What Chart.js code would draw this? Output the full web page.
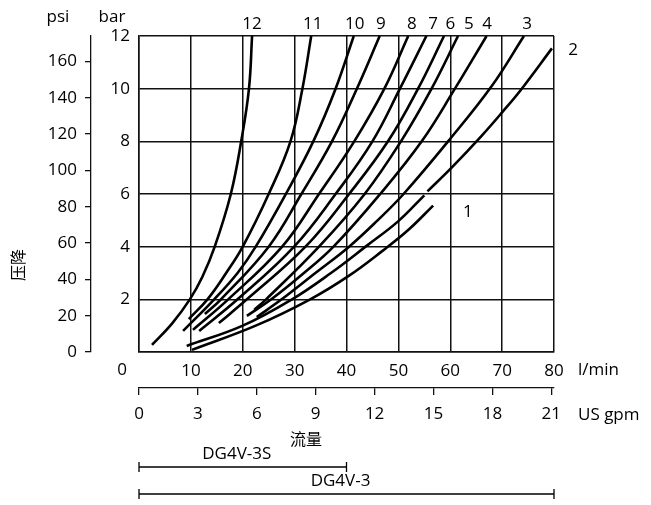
<!DOCTYPE html>
<html>
<head>
<meta charset="utf-8">
<script src="https://cdn.jsdelivr.net/npm/chart.js@4/dist/chart.umd.min.js"></script>
<style>
  html, body { margin: 0; padding: 0; background: #fff; }
  #chart { display: block; }
</style>
</head>
<body>
<canvas id="chart" width="651" height="505"></canvas>
<script>
// pressure drop curves, [flow l/min, pressure bar]
const curve1 = [[10.2, 0.08], [22.5, 1.0], [33, 2.0], [40.5, 2.9], [47, 3.85], [52, 4.65], [56.7, 5.56]];
const curve2Low = [[9.2, 0.23], [20, 1.0], [29.5, 2.0], [37, 3.0], [44, 4.05], [50, 4.97], [55, 5.95]];
const curve2High = [[55.6, 6.1], [60.5, 7.05], [66, 8.2], [70, 9.1], [73.6, 9.95], [79.6, 11.53]];
const curve3 = [[22.7, 1.33], [27.5, 2], [34, 3], [40.5, 4], [46, 5], [51, 6], [59.8, 8.05], [68, 10.1], [74.2, 12]];
const curve4 = [[20.8, 1.37], [25.5, 2], [31.5, 2.95], [37.5, 4], [46.5, 6], [54.5, 8], [60.9, 10], [67, 12]];
const curve5 = [[22.2, 1.6], [24.5, 2], [34.7, 4], [43.5, 6], [50.5, 8], [56.4, 10], [61.5, 12]];
const curve6 = [[15.4, 1.1], [20.8, 2], [32.1, 4], [40.5, 6], [48, 8], [53.8, 10], [58.8, 12]];
const curve7 = [[11.6, 0.8], [19, 2], [29.9, 4], [37.9, 6], [45, 8], [50.3, 10], [55.4, 12]];
const curve8 = [[10.4, 0.84], [17.2, 2], [27.6, 4], [34.7, 6], [41.5, 8], [47.3, 10], [51.9, 12]];
const curve9 = [[12.7, 1.44], [15.8, 2], [25, 4], [31.3, 6], [37.2, 8], [42, 10], [46.4, 12]];
const curve10 = [[8.5, 0.8], [14.5, 2], [19, 3], [22.5, 4], [28.3, 6], [33.6, 8], [37.9, 10], [41.4, 12]];
const curve11 = [[9.6, 1.25], [13.2, 2], [16.8, 3], [20, 4], [25, 6], [29.2, 8], [31.5, 10], [33.2, 12]];
const curve12 = [[2.5, 0.27], [6.4, 1.09], [9.8, 2], [12.2, 2.85], [14.6, 4], [17.7, 6], [19.7, 8], [21.2, 10], [21.8, 12]];

const curveNames = ['1', '2', '3', '4', '5', '6', '7', '8', '9', '10', '11', '12'];
// where each curve number sits, in l/min and bar
const nameFlow = [63.4, 83.7, 74.8, 67.1, 63.6, 60.0, 56.7, 52.6, 46.6, 41.6, 33.5, 21.8];
const nameBar = [5.32, 11.47, 12.45, 12.45, 12.45, 12.45, 12.45, 12.45, 12.45, 12.45, 12.45, 12.45];

// axes
const flowMax = 80;          // l/min
const barMax = 12;
const psiPerBar = 14.5;
const psiTicks = [0, 20, 40, 60, 80, 100, 120, 140, 160];
const lpmPerGpm = 3.785;
const gpmTicks = [0, 3, 6, 9, 12, 15, 18, 21];

// valve ranges under the axis
const valveNames = ['DG4V-3S', 'DG4V-3'];
const valveMaxFlow = [40, 80];

const FONT = '"Open Sans", "DejaVu Sans", sans-serif';
const CJK = '"Noto Sans CJK SC", sans-serif';

function pts(arr) {
    return arr.map(p => ({ x: p[0], y: p[1] }));
}

const curves = [
    pts(curve1),
    pts(curve2Low).concat([{ x: 55.3, y: null }], pts(curve2High)),
    pts(curve3), pts(curve4), pts(curve5), pts(curve6), pts(curve7),
    pts(curve8), pts(curve9), pts(curve10), pts(curve11), pts(curve12)
];

const datasets = curves.map((d, i) => ({
    label: curveNames[i],
    data: d,
    showLine: true,
    borderColor: '#000',
    borderWidth: 2.6,
    pointRadius: 0,
    tension: 0.4,
    spanGaps: false,
    fill: false
}));

// labels and brackets drawn around the plot
const extras = {
    id: 'extras',
    afterDraw(chart) {
        const ctx = chart.ctx;
        const xs = chart.scales.x;
        const ys = chart.scales.y;
        ctx.save();
        ctx.fillStyle = '#000';
        ctx.strokeStyle = '#000';
        ctx.font = '17px ' + FONT;
        ctx.textBaseline = 'middle';
        ctx.textAlign = 'center';

        // curve numbers
        curveNames.forEach((n, i) => {
            ctx.fillText(n, xs.getPixelForValue(nameFlow[i]), ys.getPixelForValue(nameBar[i]));
        });

        // unit captions
        ctx.fillText('psi', 58, 17);
        ctx.fillText('bar', 112, 17);
        ctx.fillText('0', 122, 370);
        ctx.textAlign = 'left';
        ctx.fillText('l/min', 578, 370);
        ctx.fillText('US gpm', 578, 415);

        // axis titles
        ctx.textAlign = 'center';
        ctx.font = '16px ' + CJK;
        ctx.fillText('流量', 306, 439);
        ctx.save();
        ctx.translate(18, 265);
        ctx.rotate(-Math.PI / 2);
        ctx.fillText('压降', 0, 0);
        ctx.restore();

        // valve brackets
        ctx.font = '17px ' + FONT;
        ctx.lineWidth = 1.3;
        const rows = [467, 494];
        valveNames.forEach((name, i) => {
            const x0 = xs.getPixelForValue(0);
            const x1 = xs.getPixelForValue(valveMaxFlow[i]);
            const y = rows[i];
            ctx.beginPath();
            ctx.moveTo(x0, y); ctx.lineTo(x1, y);
            ctx.moveTo(x0, y - 5); ctx.lineTo(x0, y + 5);
            ctx.moveTo(x1, y - 5); ctx.lineTo(x1, y + 5);
            ctx.stroke();
            ctx.fillText(name, (x0 + x1) / 2 - 6, y - 13);
        });
        ctx.restore();
    }
};

const ctx = document.getElementById('chart').getContext('2d');
new Chart(ctx, {
    type: 'scatter',
    data: { datasets: datasets },
    options: {
        responsive: false,
        animation: false,
        events: [],
        layout: { padding: { top: 36, right: 97, bottom: 75, left: 0 } },
        plugins: { legend: { display: false }, tooltip: { enabled: false } },
        scales: {
            x: {
                type: 'linear', position: 'bottom', weight: 0,
                min: 0, max: flowMax,
                afterFit: s => { s.height = 36; },
                ticks: {
                    stepSize: 10, padding: 9, color: '#000',
                    font: { family: FONT, size: 17 },
                    callback: v => (v === 0 ? '' : v)
                },
                grid: { color: '#111', lineWidth: 1.5, drawTicks: false },
                border: { color: '#111', width: 1.5 }
            },
            gpm: {
                type: 'linear', position: 'bottom', weight: 1,
                min: 0, max: flowMax / lpmPerGpm,
                afterFit: s => { s.height = 42; },
                afterBuildTicks: s => { s.ticks = gpmTicks.map(v => ({ value: v })); },
                ticks: { padding: 9, color: '#000', font: { family: FONT, size: 17 } },
                grid: { drawOnChartArea: false, color: '#111', lineWidth: 1.3, tickLength: 7 },
                border: { color: '#111', width: 1.3 }
            },
            y: {
                type: 'linear', position: 'left', weight: 0,
                min: 0, max: barMax,
                afterFit: s => { s.width = 48; },
                ticks: {
                    stepSize: 2, padding: 9, color: '#000',
                    font: { family: FONT, size: 17 },
                    callback: v => (v === 0 ? '' : v)
                },
                grid: { color: '#111', lineWidth: 1.5, drawTicks: false },
                border: { color: '#111', width: 1.5 }
            },
            psi: {
                type: 'linear', position: 'left', weight: 1,
                min: 0, max: barMax * psiPerBar,
                afterFit: s => { s.width = 91; },
                afterBuildTicks: s => { s.ticks = psiTicks.map(v => ({ value: v })); },
                ticks: { padding: 8, color: '#000', font: { family: FONT, size: 17 } },
                grid: { drawOnChartArea: false, color: '#111', lineWidth: 1.3, tickLength: 6 },
                border: { color: '#111', width: 1.3 }
            }
        }
    },
    plugins: [extras]
});
</script>
</body>
</html>
